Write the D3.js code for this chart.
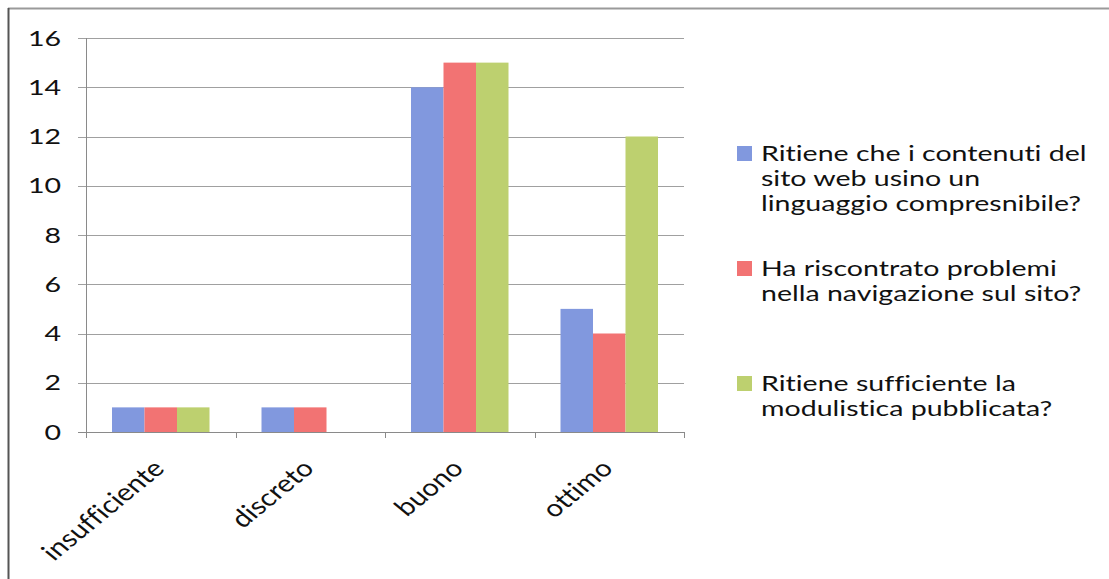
<!DOCTYPE html>
<html>
<head>
<meta charset="utf-8">
<script src="https://cdn.jsdelivr.net/npm/d3@7"></script>
<style>
  html, body { margin: 0; padding: 0; background: #fff; }
  svg { display: block; }
  text { font-family: Lato, "Open Sans", sans-serif; fill: #111; font-variant-ligatures: none; }
</style>
</head>
<body>
<svg id="chart" width="1109" height="579"></svg>
<script>
// Survey answers by rating
const categories = ["insufficiente", "discreto", "buono", "ottimo"];
const seriesNames = [
  "Ritiene che i contenuti del sito web usino un linguaggio compresnibile?",
  "Ha riscontrato problemi nella navigazione sul sito?",
  "Ritiene sufficiente la modulistica pubblicata?"
];
const legendLines = [
  ["Ritiene che i contenuti del", "sito web usino un", "linguaggio compresnibile?"],
  ["Ha riscontrato problemi", "nella navigazione sul sito?"],
  ["Ritiene sufficiente la", "modulistica pubblicata?"]
];
const contenuti = [1, 1, 14, 5];
const navigazione = [1, 1, 15, 4];
const modulistica = [1, 0, 15, 12];
const yTicks = [0, 2, 4, 6, 8, 10, 12, 14, 16];
const colors = ["#8198DE", "#F27373", "#BDD06F"];

const seriesValues = [contenuti, navigazione, modulistica];

// horizontal text stretch for axis/legend text and for the slanted labels
const sx = 1.36;
const sxLabel = 1.22;

const svg = d3.select("#chart");

// outer frame
svg.append("line")
  .attr("x1", 8).attr("x2", 1109).attr("y1", 8.5).attr("y2", 8.5)
  .attr("stroke", "#9a9a9a").attr("stroke-width", 2);
svg.append("line")
  .attr("x1", 8.5).attr("x2", 8.5).attr("y1", 8).attr("y2", 579)
  .attr("stroke", "#555").attr("stroke-width", 2);

const plot = { left: 86, right: 684, top: 38, bottom: 432 };

const y = d3.scaleLinear().domain([0, 16]).range([plot.bottom, plot.top]);
const x0 = d3.scaleBand().domain(categories).range([plot.left, plot.right]).padding(0);
const x1 = d3.scaleBand().domain(d3.range(seriesNames.length))
  .range([0, x0.bandwidth()]).paddingInner(0).paddingOuter(0.8);

// horizontal gridlines
svg.append("g").selectAll("line")
  .data(yTicks.filter(t => t > 0))
  .join("line")
  .attr("x1", plot.left - 8).attr("x2", plot.right)
  .attr("y1", d => Math.round(y(d)) + 0.5).attr("y2", d => Math.round(y(d)) + 0.5)
  .attr("stroke", "#a0a0a0").attr("stroke-width", 1);

// y tick labels
svg.append("g").selectAll("text")
  .data(yTicks)
  .join("text")
  .attr("transform", d => `translate(61,${y(d)}) scale(${sx},1)`)
  .attr("dy", "0.36em")
  .attr("text-anchor", "end")
  .style("font-size", "21px")
  .text(d => d);

// bars
const groups = svg.append("g").selectAll("g")
  .data(categories)
  .join("g")
  .attr("transform", d => `translate(${x0(d)},0)`);

groups.selectAll("rect")
  .data((d, i) => seriesValues.map((vals, s) => ({ s, v: vals[i] })))
  .join("rect")
  .attr("x", d => x1(d.s))
  .attr("width", x1.bandwidth())
  .attr("y", d => y(d.v))
  .attr("height", d => y(0) - y(d.v))
  .attr("fill", d => colors[d.s]);

// y axis line
svg.append("line")
  .attr("x1", plot.left + 0.5).attr("x2", plot.left + 0.5)
  .attr("y1", plot.top).attr("y2", plot.bottom)
  .attr("stroke", "#8a8a8a");

// x axis line with category boundary ticks
svg.append("line")
  .attr("x1", plot.left - 8).attr("x2", plot.right)
  .attr("y1", plot.bottom + 0.5).attr("y2", plot.bottom + 0.5)
  .attr("stroke", "#8a8a8a");

const bounds = categories.map(c => x0(c)).concat([plot.right]);
svg.append("g").selectAll("line")
  .data(bounds)
  .join("line")
  .attr("x1", d => Math.round(d) + 0.5).attr("x2", d => Math.round(d) + 0.5)
  .attr("y1", plot.bottom).attr("y2", plot.bottom + 6)
  .attr("stroke", "#8a8a8a");

// rotated category labels
svg.append("g").selectAll("text")
  .data(categories)
  .join("text")
  .attr("transform", d => `translate(${x0(d) + x0.bandwidth() / 2 - 2},${plot.bottom + 32}) scale(${sxLabel},1) rotate(-45)`)
  .attr("text-anchor", "end")
  .attr("dy", "0.35em")
  .style("font-size", "24px")
  .text(d => d);

// legend
const legendTop = [161, 276, 391];
const legend = svg.append("g");
legendLines.forEach((lines, s) => {
  legend.append("rect")
    .attr("x", 737).attr("y", legendTop[s] - 15)
    .attr("width", 15).attr("height", 15)
    .attr("fill", colors[s]);
  lines.forEach((ln, k) => {
    legend.append("text")
      .attr("transform", `translate(761,${legendTop[s] + k * 25}) scale(${sx},1)`)
      .style("font-size", "21px")
      .text(ln);
  });
});
</script>
</body>
</html>
